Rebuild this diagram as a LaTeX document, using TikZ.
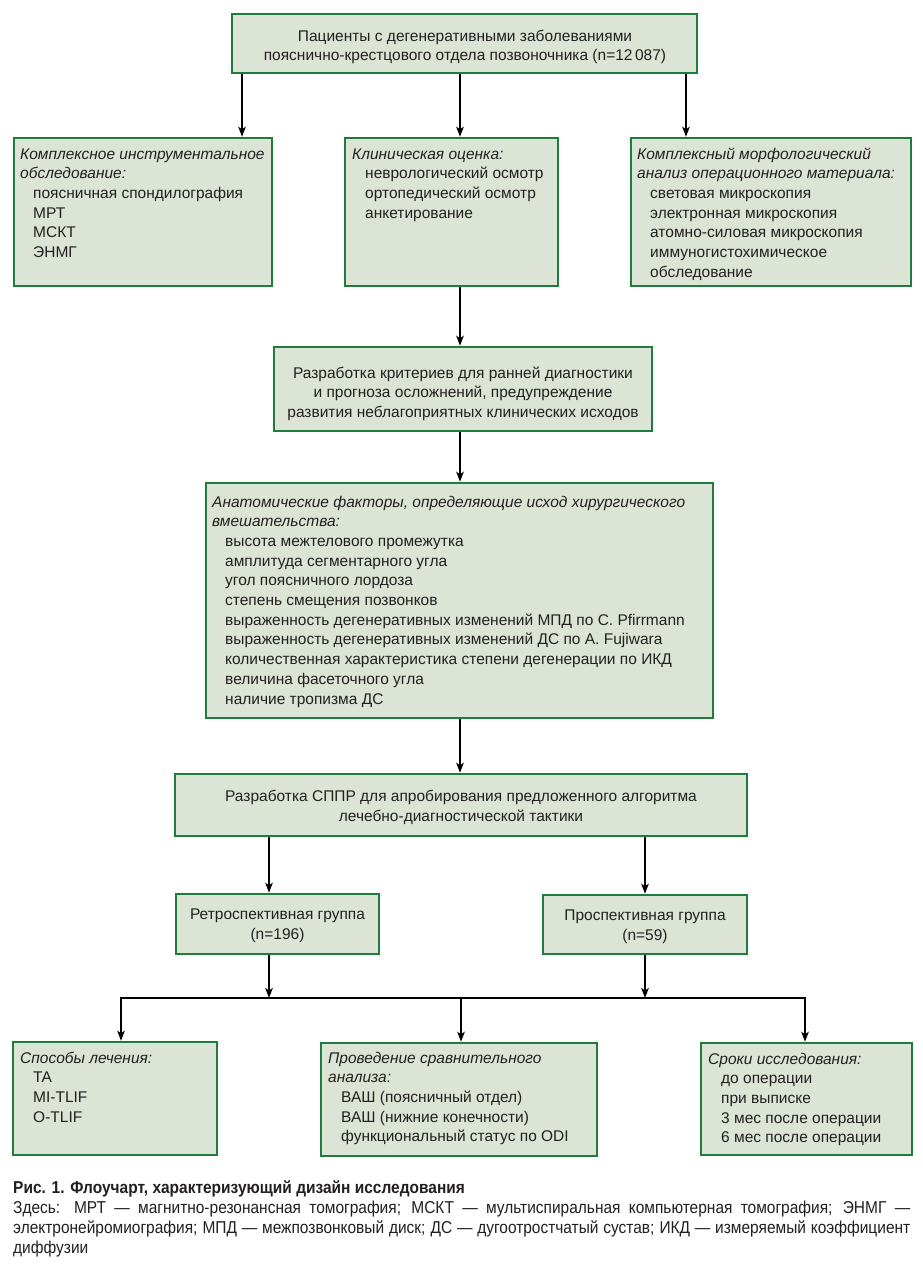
\documentclass[tikz,border=0pt]{standalone}
\usepackage{fontspec}
\setmainfont{Liberation Sans}
\newfontfamily\narrowfont[FakeStretch=0.9]{Liberation Sans}
\usetikzlibrary{arrows.meta,fit}
\definecolor{boxfill}{HTML}{DCE4D6}
\definecolor{boxline}{HTML}{1E7D3C}
\definecolor{txt}{HTML}{231F20}
\newcommand\myind{\hspace*{13pt}}
\tikzset{
  box/.style={draw=boxline, fill=boxfill, line width=2.5pt, inner sep=0pt},
  conn/.style={draw=black, line width=1.9pt},
  arr/.style={conn, -{Stealth[length=10pt,width=7.5pt,inset=2.5pt]}},
  darr/.style={conn, {Stealth[length=10pt,width=7.5pt,inset=2.5pt]}-{Stealth[length=10pt,width=7.5pt,inset=2.5pt]}},
  txtn/.style={inner sep=0pt, text=txt, font=\fontsize{15.5}{19.7}\selectfont},
  captn/.style={inner sep=0pt, text=txt, font=\narrowfont\fontsize{17.2}{20.3}\selectfont},
}
\begin{document}
\begin{tikzpicture}[x=1pt,y=-1pt]
\useasboundingbox[fill=white] (0,0) rectangle (923,1264);

% boxes
\node[box, fit={(232,14) (697,73)}] (top) {};
\node[box, fit={(14,138) (272,286)}] (L1) {};
\node[box, fit={(345,138) (558,286)}] (C1) {};
\node[box, fit={(631,138) (911,286)}] (R1) {};
\node[box, fit={(274,347) (652,431)}] (B2) {};
\node[box, fit={(206,483) (713,718)}] (B3) {};
\node[box, fit={(175,774) (747,836)}] (B4) {};
\node[box, fit={(176,894) (379,954)}] (B5L) {};
\node[box, fit={(543,895) (747,954)}] (B5R) {};
\node[box, fit={(13,1042) (217,1155)}] (L6) {};
\node[box, fit={(321,1043) (597,1156)}] (C6) {};
\node[box, fit={(701,1043) (912,1155)}] (R6) {};

% texts
\node[txtn, anchor=base] (ttop) at (465,41) {\parbox[t]{600pt}{\centering
  Пациенты с дегенеративными заболеваниями\\
  пояснично-крестцового отдела позвоночника (n=12\,087)}};
\node[txtn, anchor=base west] (tL1) at (20,159) {\parbox[t]{500pt}{\raggedright
  \itshape Комплексное инструментальное\\ обследование:\\ \upshape
  \myind поясничная спондилография\\ \myind МРТ\\ \myind МСКТ\\ \myind ЭНМГ}};
\node[txtn, anchor=base west] (tC1) at (352,159) {\parbox[t]{500pt}{\raggedright
  \itshape Клиническая оценка:\\ \upshape
  \myind неврологический осмотр\\ \myind ортопедический осмотр\\ \myind анкетирование}};
\node[txtn, anchor=base west] (tR1) at (637,159) {\parbox[t]{500pt}{\raggedright
  \itshape Комплексный морфологический\\ анализ операционного материала:\\ \upshape
  \myind световая микроскопия\\ \myind электронная микроскопия\\
  \myind атомно-силовая микроскопия\\ \myind иммуногистохимическое\\ \myind обследование}};
\node[txtn, anchor=base] (tB2) at (463,378) {\parbox[t]{600pt}{\centering
  Разработка критериев для ранней диагностики\\
  и прогноза осложнений, предупреждение\\
  развития неблагоприятных клинических исходов}};
\node[txtn, anchor=base west] (tB3) at (212,507) {\parbox[t]{700pt}{\raggedright
  \itshape Анатомические факторы, определяющие исход хирургического\\ вмешательства:\\ \upshape
  \myind высота межтелового промежутка\\
  \myind амплитуда сегментарного угла\\
  \myind угол поясничного лордоза\\
  \myind степень смещения позвонков\\
  \myind выраженность дегенеративных изменений МПД по C. Pfirrmann\\
  \myind выраженность дегенеративных изменений ДС по A. Fujiwara\\
  \myind количественная характеристика степени дегенерации по ИКД\\
  \myind величина фасеточного угла\\
  \myind наличие тропизма ДС}};
\node[txtn, anchor=base] (tB4) at (461,801) {\parbox[t]{700pt}{\centering
  Разработка СППР для апробирования предложенного алгоритма\\[1pt]
  лечебно-диагностической тактики}};
\node[txtn, anchor=base] (tB5L) at (277.5,919) {\parbox[t]{300pt}{\centering
  Ретроспективная группа\\[1pt] (n=196)}};
\node[txtn, anchor=base] (tB5R) at (645,920) {\parbox[t]{300pt}{\centering
  Проспективная группа\\[1pt] (n=59)}};
\node[txtn, anchor=base west] (tL6) at (20,1063) {\parbox[t]{300pt}{\raggedright
  \itshape Способы лечения:\\ \upshape
  \myind TA\\ \myind MI-TLIF\\ \myind O-TLIF}};
\node[txtn, anchor=base west] (tC6) at (328,1063) {\parbox[t]{300pt}{\raggedright
  \itshape Проведение сравнительного\\ анализа:\\ \upshape
  \myind ВАШ (поясничный отдел)\\ \myind ВАШ (нижние конечности)\\
  \myind функциональный статус по ODI}};
\node[txtn, anchor=base west] (tR6) at (708,1064) {\parbox[t]{300pt}{\raggedright
  \itshape Сроки исследования:\\ \upshape
  \myind до операции\\ \myind при выписке\\
  \myind 3 мес после операции\\ \myind 6 мес после операции}};

% caption
\node[captn, anchor=base west] (cap) at (13,1193) {\parbox[t]{897pt}{%
  \emergencystretch=0pt\hfuzz=40pt
  \textbf{Рис. 1. Флоучарт, характеризующий дизайн исследования}\\
  Здесь: МРТ — магнитно-резонансная томография; МСКТ — мультиспиральная компьютерная томография; ЭНМГ —\linebreak
  электронейромиография; МПД — межпозвонковый диск; ДС — дугоотростчатый сустав; ИКД — измеряемый коэффициент\linebreak
  диффузии}};

% connector x positions
\coordinate (xA) at (242,0);
\coordinate (xB) at (460,0);
\coordinate (xC) at (686,0);
\coordinate (xD) at (269,0);
\coordinate (xE) at (645,0);
\coordinate (jL) at (121,998);
\coordinate (jC) at (461,998);
\coordinate (jR) at (805,998);

% connectors
\draw[arr] (top.south -| xA) -- (L1.north -| xA);
\draw[arr] (top.south -| xB) -- (C1.north -| xB);
\draw[arr] (top.south -| xC) -- (R1.north -| xC);
\draw[arr] (C1.south -| xB) -- (B2.north -| xB);
\draw[arr] (B2.south -| xB) -- (B3.north -| xB);
\draw[arr] (B3.south -| xB) -- (B4.north -| xB);
\draw[arr] (B4.south -| xD) -- (B5L.north -| xD);
\draw[arr] (B4.south -| xE) -- (B5R.north -| xE);
\draw[arr] (B5L.south -| xD) -- (jL -| xD);
\draw[arr] (B5R.south -| xE) -- (jL -| xE);
\draw[darr] (L6.north -| jL) -- (jL) -- (jR) -- (R6.north -| jR);
\draw[arr] (jC) -- (C6.north -| jC);
\end{tikzpicture}
\end{document}
